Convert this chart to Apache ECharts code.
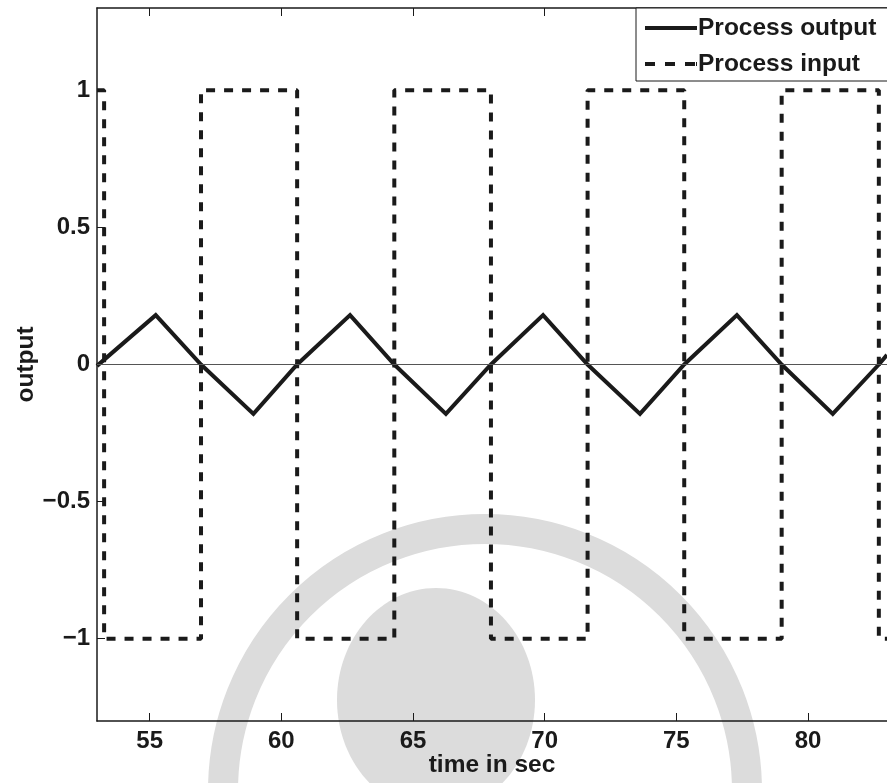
<!DOCTYPE html>
<html>
<head>
<meta charset="utf-8">
<script src="https://cdn.jsdelivr.net/npm/echarts@6/dist/echarts.min.js"></script>
<style>
  html, body { margin: 0; padding: 0; background: #fff; }
  #chart { width: 887px; height: 783px; }
</style>
</head>
<body>
<div id="chart"></div>
<script>
// Relay feedback test: square-wave process input and triangular process output
const xTicks = [55, 60, 65, 70, 75, 80];
const yTicks = [-1, -0.5, 0, 0.5, 1];

// Relay (process input) switching instants and levels held after each instant
const inputTimes  = [53, 53.27, 56.95, 60.60, 64.29, 67.96, 71.63, 75.30, 79.00, 82.69, 83];
const inputLevels = [1,  -1,    1,     -1,    1,     -1,    1,     -1,    1,     -1,    -1];

// Process output vertices (peaks, troughs and zero crossings)
const outputTimes  = [53, 55.23, 56.95, 58.94, 60.60, 62.61, 64.29, 66.25, 67.96, 69.94, 71.63, 73.62, 75.30, 77.30, 79.00, 80.94, 82.69, 83];
const outputValues = [-0.005, 0.18, 0, -0.18, 0, 0.18, 0, -0.18, 0, 0.18, 0, -0.18, 0, 0.18, 0, -0.18, 0, 0.035];

const FONT = "'Liberation Sans', Arial, Helvetica, sans-serif";
const INK = '#1a1a1a';
const fmt = v => String(v).replace('-', '\u2212');

// Legend glyphs: a solid bar and three dashes
const SOLID_ICON = 'path://M0,0H52V4H0Z';
const DASH_ICON = 'path://M0,0H10V4H0Z M20,0H30V4H20Z M40,0H50V4H40Z M51,0H52V4H51Z';

const chart = echarts.init(document.getElementById('chart'), null, { renderer: 'canvas' });

const xBase = {
  type: 'value', min: 53, max: 83,
  axisLine: { show: true, onZero: false, lineStyle: { color: INK, width: 1.5 } },
  axisTick: { show: true, inside: true, length: 8, customValues: xTicks, lineStyle: { color: INK, width: 1 } },
  splitLine: { show: false }
};

chart.setOption({
  animation: false,
  backgroundColor: '#ffffff',
  grid: { left: 97, right: 0, top: 8, bottom: 62, containLabel: false, outerBoundsMode: 'none' },
  graphic: [
    { type: 'arc', z: -10, silent: true,
      shape: { cx: 485, cy: 791, r: 262, startAngle: Math.PI, endAngle: 2 * Math.PI },
      style: { stroke: '#dcdcdc', lineWidth: 30, fill: null } },
    { type: 'ellipse', z: -10, silent: true,
      shape: { cx: 436, cy: 700, rx: 99, ry: 112 },
      style: { fill: '#dcdcdc' } }
  ],
  legend: {
    data: [
      { name: 'Process output', icon: SOLID_ICON },
      { name: 'Process input', icon: DASH_ICON }
    ],
    orient: 'vertical', left: 636, top: 8,
    itemWidth: 52, itemHeight: 4, itemGap: 10,
    padding: [7, 14, 4, 9],
    backgroundColor: '#ffffff', borderColor: INK, borderWidth: 1, borderRadius: 0,
    itemStyle: { color: INK, borderWidth: 0 },
    lineStyle: { width: 0 },
    textStyle: { fontFamily: FONT, fontWeight: 'bold', fontSize: 24.5, color: INK, lineHeight: 26, padding: [0, 0, 0, -4] }
  },
  xAxis: [
    Object.assign({}, xBase, {
      position: 'bottom',
      name: 'time in sec', nameLocation: 'middle', nameGap: 32, nameMoveOverlap: false,
      nameTextStyle: { fontFamily: FONT, fontWeight: 'bold', fontSize: 24.5, color: INK },
      axisLabel: { show: true, customValues: xTicks, margin: 8,
        fontFamily: FONT, fontWeight: 'bold', fontSize: 24, color: INK }
    }),
    Object.assign({}, xBase, { position: 'top', axisLabel: { show: false } })
  ],
  yAxis: {
    type: 'value', min: -1.3, max: 1.3,
    name: 'output', nameLocation: 'middle', nameGap: 58, nameMoveOverlap: false,
    nameTextStyle: { fontFamily: FONT, fontWeight: 'bold', fontSize: 24.5, color: INK },
    axisLine: { show: true, onZero: false, lineStyle: { color: INK, width: 1.5 } },
    axisTick: { show: true, inside: true, length: 8, customValues: yTicks, lineStyle: { color: INK, width: 1 } },
    axisLabel: { show: true, customValues: yTicks, margin: 7, formatter: fmt,
      fontFamily: FONT, fontWeight: 'bold', fontSize: 24, color: INK },
    splitLine: { show: false }
  },
  series: [
    {
      name: 'Process output', type: 'line', xAxisIndex: 0,
      data: outputTimes.map((t, i) => [t, outputValues[i]]),
      showSymbol: false, symbol: 'none', clip: true,
      lineStyle: { color: INK, width: 4, type: 'solid', join: 'miter' },
      itemStyle: { color: INK },
      markLine: {
        silent: true, symbol: 'none', label: { show: false },
        lineStyle: { color: '#555', width: 1, type: 'solid' },
        data: [{ yAxis: 0 }]
      },
      z: 3
    },
    {
      name: 'Process input', type: 'line', xAxisIndex: 0, step: 'end',
      data: inputTimes.map((t, i) => [t, inputLevels[i]]),
      showSymbol: false, symbol: 'none', clip: true,
      lineStyle: { color: INK, width: 4, type: [9, 9] },
      itemStyle: { color: INK },
      z: 4
    }
  ]
});
</script>
</body>
</html>
